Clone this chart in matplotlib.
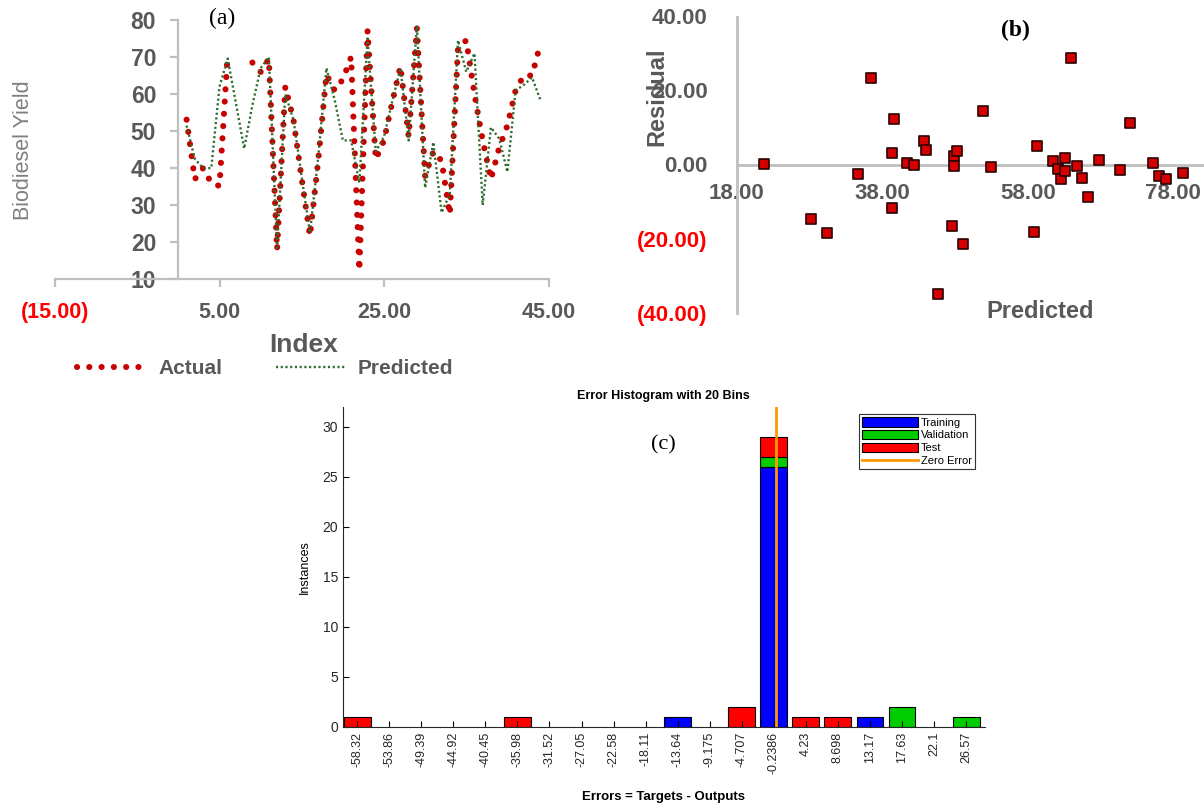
import numpy as np
import matplotlib
matplotlib.use('Agg')
import matplotlib.pyplot as plt
from matplotlib.lines import Line2D
from matplotlib.patches import Patch

plt.rcParams['font.family'] = ['Liberation Sans', 'DejaVu Sans']

GRAY = '#595959'
LIGHT = '#BFBFBF'
RED = '#C80000'
DGREEN = '#2E6B2E'

# ---- (a) actual vs predicted biodiesel yield ----
index = np.arange(1, 45)
actual = [53.1, 37.0, 40.0, 36.0, 35.2, 71.0, np.nan, np.nan, 68.5, 66.0,
          69.5, 18.0, 62.0, 53.0, 37.0, 21.7, 42.0, 65.3, 61.0, 64.0,
          70.0, 12.4, 77.1, 42.4, 47.5, 57.8, 67.5, 48.5, 77.7, 37.8,
          44.5, 42.0, 27.5, 72.5, 74.5, 60.0, 47.5, 37.0, 45.5, 51.5,
          61.0, 65.0, 65.0, 73.5]
predicted = [51.5, 42.5, 40.0, 40.0, 62.0, 69.6, 57.5, 45.3, 57.0, 67.0,
             70.0, 18.5, 60.0, 53.0, 37.5, 22.5, 43.0, 67.0, 58.5, 47.5,
             47.5, 36.0, 75.0, 44.5, 48.5, 58.0, 67.0, 47.5, 78.5, 34.7,
             47.0, 28.0, 33.0, 74.5, 66.0, 71.0, 30.0, 51.0, 48.0, 39.0,
             61.0, 62.5, 64.5, 58.5]
index_ticks = [-15, 5, 25, 45]
yield_ticks = [10, 20, 30, 40, 50, 60, 70, 80]

# ---- (b) residuals ----
pred_b = [21.7, 28.2, 30.4, 34.6, 36.5, 39.3, 39.3, 39.6, 41.4, 42.3,
          43.7, 44.0, 45.7, 47.6, 47.8, 47.8, 48.2, 49.1, 51.8, 53.0,
          58.8, 59.2, 61.5, 62.1, 62.6, 63.1, 63.1, 64.0, 64.7, 65.4,
          66.3, 67.8, 70.7, 72.0, 75.2, 76.1, 77.0, 79.3]
resid_b = [0.1, -14.7, -18.5, -2.6, 23.5, 3.0, -11.8, 12.2, 0.3, -0.2,
           6.4, 3.9, -34.9, -16.5, 2.4, -0.4, 3.6, -21.6, 14.4, -0.7,
           -18.2, 5.0, 0.9, -1.1, -3.9, 1.7, -1.8, 28.7, -0.4, -3.6,
           -8.9, 1.1, -1.6, 11.3, 0.4, -3.2, -3.9, -2.2]
pred_ticks = [18, 38, 58, 78]
resid_ticks = [-40, -20, 0, 20, 40]

# ---- (c) error histogram ----
bin_labels = ['-58.32', '-53.86', '-49.39', '-44.92', '-40.45', '-35.98',
              '-31.52', '-27.05', '-22.58', '-18.11', '-13.64', '-9.175',
              '-4.707', '-0.2386', '4.23', '8.698', '13.17', '17.63',
              '22.1', '26.57']
training = [0, 0, 0, 0, 0, 0, 0, 0, 0, 0, 1, 0, 0, 26, 0, 0, 1, 0, 0, 0]
validation = [0, 0, 0, 0, 0, 0, 0, 0, 0, 0, 0, 0, 0, 1, 0, 0, 0, 2, 0, 1]
test = [1, 0, 0, 0, 0, 1, 0, 0, 0, 0, 0, 0, 2, 2, 1, 1, 0, 0, 0, 0]


def acc(v):
    return '(%.2f)' % abs(v) if v < 0 else '%.2f' % v


fig = plt.figure(figsize=(12.04, 8.06), dpi=100)
W, H = 1204.0, 806.0

# ================= panel (a) =================
ax1 = fig.add_axes([55 / W, (H - 279.3) / H, 493.5 / W, 259.3 / H])
ax1.set_xlim(-15, 45)
ax1.set_ylim(10, 80)
actual_ls = (0, (0.01, 2.0))
ax1.plot(index, actual, color=RED, lw=4.4, ls=actual_ls,
         dash_capstyle='round')
ax1.plot(index, predicted, color=DGREEN, lw=1.7, ls=(0, (0.9, 1.1)))
for s in ['top', 'right']:
    ax1.spines[s].set_visible(False)
ax1.spines['left'].set_position(('data', 0))
for s in ['left', 'bottom']:
    ax1.spines[s].set_color(LIGHT)
    ax1.spines[s].set_linewidth(1.6)
ax1.set_xticks(index_ticks)
ax1.set_xticklabels([acc(v) for v in index_ticks])
ax1.set_yticks(yield_ticks)
ax1.tick_params(axis='both', color=LIGHT, length=6, width=1.6,
                labelcolor=GRAY)
ax1.tick_params(axis='x', pad=10, labelsize=15.5)
ax1.tick_params(axis='y', pad=10, labelsize=16.5)
for v, t in zip(index_ticks, ax1.get_xticklabels()):
    t.set_fontweight('bold')
    if v < 0:
        t.set_color('red')
for t in ax1.get_yticklabels():
    t.set_fontweight('bold')

fig.text(24 / W, 1 - 150 / H, 'Biodiesel Yield', rotation=90, ha='center',
         va='center', fontsize=15.5, color='#7F7F7F')
fig.text(304 / W, 1 - 345 / H, 'Index', ha='center', va='center',
         fontsize=19, fontweight='bold', color=GRAY)
fig.text(222 / W, 1 - 18 / H, '(a)', ha='center', va='center',
         fontsize=17, family='Liberation Serif')

leg_handles = [
    Line2D([], [], color=RED, lw=4.4, ls=actual_ls, dash_capstyle='round'),
    Line2D([], [], color=DGREEN, lw=1.7, ls=(0, (0.9, 1.1))),
]
fig.legend(leg_handles, ['Actual', 'Predicted'], loc='center',
           bbox_to_anchor=(265 / W, 1 - 369 / H), ncol=2, frameon=False,
           prop={'weight': 'bold', 'size': 15}, labelcolor=GRAY,
           handlelength=3.3, columnspacing=2.6, handletextpad=0.6)

# ================= panel (b) =================
ax2 = fig.add_axes([737 / W, (H - 312.5) / H, (W - 737) / W, 296 / H])
ax2.set_xlim(18, 18 + (W - 737) / 7.27)
ax2.set_ylim(-40, 40)
ax2.scatter(pred_b, resid_b, marker='s', s=46, color='#D40000',
            edgecolors='#2a0000', linewidths=1.2, zorder=3)
for s in ['top', 'right']:
    ax2.spines[s].set_visible(False)
ax2.spines['bottom'].set_position(('data', 0))
for s in ['left', 'bottom']:
    ax2.spines[s].set_color(LIGHT)
    ax2.spines[s].set_linewidth(2)
ax2.set_xticks(pred_ticks)
ax2.set_xticklabels([acc(v) for v in pred_ticks])
ax2.set_yticks(resid_ticks)
ax2.set_yticklabels([acc(v) for v in resid_ticks])
ax2.tick_params(axis='both', length=0, labelcolor=GRAY, labelsize=16)
ax2.tick_params(axis='x', pad=13)
ax2.tick_params(axis='y', pad=21)
for t in ax2.get_xticklabels():
    t.set_fontweight('bold')
for v, t in zip(resid_ticks, ax2.get_yticklabels()):
    t.set_fontweight('bold')
    if v < 0:
        t.set_color('red')

fig.text(657 / W, 1 - 97 / H, 'Residual', rotation=90, ha='center',
         va='center', fontsize=17, fontweight='bold', color=GRAY)
fig.text(1040 / W, 1 - 312 / H, 'Predicted', ha='center', va='center',
         fontsize=17, fontweight='bold', color=GRAY)
fig.text(1015 / W, 1 - 30 / H, '(b)', ha='center', va='center',
         fontsize=17, fontweight='bold', family='Liberation Serif')

# ================= panel (c) =================
ax3 = fig.add_axes([343 / W, (H - 727) / H, 642 / W, 320 / H])
centers = np.array([float(s) for s in bin_labels])
bw = 0.84 * (centers[1] - centers[0])
tr = np.array(training)
va = np.array(validation)
te = np.array(test)
m = tr > 0
ax3.bar(centers[m], tr[m], width=bw, color='#0000FF', edgecolor='black',
        linewidth=0.8)
m = va > 0
ax3.bar(centers[m], va[m], bottom=tr[m], width=bw, color='#00CC00',
        edgecolor='black', linewidth=0.8)
m = te > 0
ax3.bar(centers[m], te[m], bottom=(tr + va)[m], width=bw, color='#FF0000',
        edgecolor='black', linewidth=0.8)
ax3.axvline(0, color='#FF9900', lw=2, zorder=4)
ax3.set_xlim(-60.3, 29.2)
ax3.set_ylim(0, 32)
ax3.set_xticks(centers)
ax3.set_xticklabels(bin_labels, rotation=90)
ax3.set_yticks([0, 5, 10, 15, 20, 25, 30])
for s in ['top', 'right']:
    ax3.spines[s].set_visible(False)
for s in ['left', 'bottom']:
    ax3.spines[s].set_color('#262626')
    ax3.spines[s].set_linewidth(0.8)
ax3.tick_params(axis='both', direction='in', length=4, width=0.8,
                labelsize=9, labelcolor='#262626')
ax3.tick_params(axis='y', labelsize=10)

fig.text(663 / W, 1 - 396 / H, 'Error Histogram with 20 Bins', ha='center',
         va='center', fontsize=9, fontweight='bold')
fig.text(663 / W, 1 - 797 / H, 'Errors = Targets - Outputs', ha='center',
         va='center', fontsize=9.5, fontweight='bold')
fig.text(305 / W, 1 - 567 / H, 'Instances', rotation=90, ha='center',
         va='center', fontsize=9)
fig.text(663 / W, 1 - 445 / H, '(c)', ha='center', va='center',
         fontsize=16, family='Liberation Serif')

hist_handles = [
    Patch(facecolor='#0000FF', edgecolor='black', linewidth=0.8),
    Patch(facecolor='#00CC00', edgecolor='black', linewidth=0.8),
    Patch(facecolor='#FF0000', edgecolor='black', linewidth=0.8),
    Line2D([], [], color='#FF9900', lw=2),
]
lg = ax3.legend(hist_handles, ['Training', 'Validation', 'Test', 'Zero Error'],
                loc='upper right', bbox_to_anchor=(0.985, 0.978),
                fontsize=8, fancybox=False, edgecolor='black',
                handlelength=5.0, handleheight=0.9, labelspacing=0.2,
                borderpad=0.3, handletextpad=0.3, borderaxespad=0)
lg.get_frame().set_linewidth(0.8)

fig.savefig('out.png', dpi=100)
